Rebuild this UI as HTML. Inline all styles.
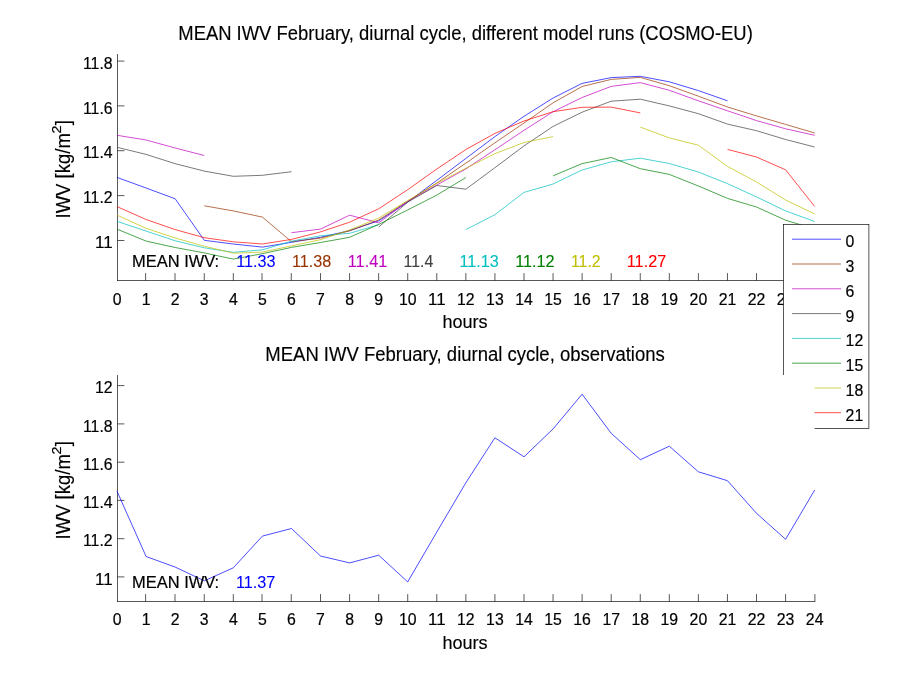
<!DOCTYPE html>
<html lang="en"><head><meta charset="utf-8"><title>MEAN IWV February, diurnal cycle</title>
<style>html,body{margin:0;padding:0;background:#fff}body{width:900px;height:675px;overflow:hidden}svg{display:block}text{font-family:"Liberation Sans", Arial, Helvetica, sans-serif;stroke-width:0.2px}</style>
</head><body>
<svg width="900" height="675" viewBox="0 0 900 675">
<rect x="0" y="0" width="900" height="675" fill="#fff"/>
<g stroke="#000" stroke-width="0.66" fill="none">
<line x1="117.5" y1="54" x2="117.5" y2="280.9"/>
<line x1="117.2" y1="280.5" x2="815.2" y2="280.5"/>
<line x1="145.60" y1="273.1" x2="145.60" y2="280.5"/>
<line x1="175.00" y1="273.1" x2="175.00" y2="280.5"/>
<line x1="204.25" y1="273.1" x2="204.25" y2="280.5"/>
<line x1="233.32" y1="273.1" x2="233.32" y2="280.5"/>
<line x1="262.00" y1="273.1" x2="262.00" y2="280.5"/>
<line x1="291.25" y1="273.1" x2="291.25" y2="280.5"/>
<line x1="320.52" y1="273.1" x2="320.52" y2="280.5"/>
<line x1="349.59" y1="273.1" x2="349.59" y2="280.5"/>
<line x1="378.65" y1="273.1" x2="378.65" y2="280.5"/>
<line x1="407.72" y1="273.1" x2="407.72" y2="280.5"/>
<line x1="436.79" y1="273.1" x2="436.79" y2="280.5"/>
<line x1="465.85" y1="273.1" x2="465.85" y2="280.5"/>
<line x1="494.92" y1="273.1" x2="494.92" y2="280.5"/>
<line x1="523.99" y1="273.1" x2="523.99" y2="280.5"/>
<line x1="553.05" y1="273.1" x2="553.05" y2="280.5"/>
<line x1="582.12" y1="273.1" x2="582.12" y2="280.5"/>
<line x1="611.19" y1="273.1" x2="611.19" y2="280.5"/>
<line x1="640.26" y1="273.1" x2="640.26" y2="280.5"/>
<line x1="669.32" y1="273.1" x2="669.32" y2="280.5"/>
<line x1="698.39" y1="273.1" x2="698.39" y2="280.5"/>
<line x1="727.46" y1="273.1" x2="727.46" y2="280.5"/>
<line x1="756.52" y1="273.1" x2="756.52" y2="280.5"/>
<line x1="785.59" y1="273.1" x2="785.59" y2="280.5"/>
<line x1="814.90" y1="273.1" x2="814.90" y2="280.5"/>
<line x1="117.5" y1="61.1" x2="124.4" y2="61.1"/>
<line x1="117.5" y1="105.9" x2="124.4" y2="105.9"/>
<line x1="117.5" y1="150.7" x2="124.4" y2="150.7"/>
<line x1="117.5" y1="195.6" x2="124.4" y2="195.6"/>
<line x1="117.5" y1="240.5" x2="124.4" y2="240.5"/>
</g>
<text x="83.00" y="68.80" font-size="16.67" textLength="29.60" lengthAdjust="spacingAndGlyphs" fill="#000" stroke="#000">11.8</text>
<text x="83.00" y="113.60" font-size="16.67" textLength="29.60" lengthAdjust="spacingAndGlyphs" fill="#000" stroke="#000">11.6</text>
<text x="83.00" y="158.40" font-size="16.67" textLength="29.60" lengthAdjust="spacingAndGlyphs" fill="#000" stroke="#000">11.4</text>
<text x="83.00" y="203.30" font-size="16.67" textLength="29.60" lengthAdjust="spacingAndGlyphs" fill="#000" stroke="#000">11.2</text>
<text x="95.00" y="248.20" font-size="16.67" textLength="17.60" lengthAdjust="spacingAndGlyphs" fill="#000" stroke="#000">11</text>
<text x="112.65" y="304.70" font-size="16.67" textLength="8.80" lengthAdjust="spacingAndGlyphs" fill="#000" stroke="#000">0</text>
<text x="141.72" y="304.70" font-size="16.67" textLength="8.80" lengthAdjust="spacingAndGlyphs" fill="#000" stroke="#000">1</text>
<text x="170.78" y="304.70" font-size="16.67" textLength="8.80" lengthAdjust="spacingAndGlyphs" fill="#000" stroke="#000">2</text>
<text x="199.85" y="304.70" font-size="16.67" textLength="8.80" lengthAdjust="spacingAndGlyphs" fill="#000" stroke="#000">3</text>
<text x="228.92" y="304.70" font-size="16.67" textLength="8.80" lengthAdjust="spacingAndGlyphs" fill="#000" stroke="#000">4</text>
<text x="257.99" y="304.70" font-size="16.67" textLength="8.80" lengthAdjust="spacingAndGlyphs" fill="#000" stroke="#000">5</text>
<text x="287.05" y="304.70" font-size="16.67" textLength="8.80" lengthAdjust="spacingAndGlyphs" fill="#000" stroke="#000">6</text>
<text x="316.12" y="304.70" font-size="16.67" textLength="8.80" lengthAdjust="spacingAndGlyphs" fill="#000" stroke="#000">7</text>
<text x="345.19" y="304.70" font-size="16.67" textLength="8.80" lengthAdjust="spacingAndGlyphs" fill="#000" stroke="#000">8</text>
<text x="374.25" y="304.70" font-size="16.67" textLength="8.80" lengthAdjust="spacingAndGlyphs" fill="#000" stroke="#000">9</text>
<text x="398.92" y="304.70" font-size="16.67" textLength="17.60" lengthAdjust="spacingAndGlyphs" fill="#000" stroke="#000">10</text>
<text x="427.99" y="304.70" font-size="16.67" textLength="17.60" lengthAdjust="spacingAndGlyphs" fill="#000" stroke="#000">11</text>
<text x="457.05" y="304.70" font-size="16.67" textLength="17.60" lengthAdjust="spacingAndGlyphs" fill="#000" stroke="#000">12</text>
<text x="486.12" y="304.70" font-size="16.67" textLength="17.60" lengthAdjust="spacingAndGlyphs" fill="#000" stroke="#000">13</text>
<text x="515.19" y="304.70" font-size="16.67" textLength="17.60" lengthAdjust="spacingAndGlyphs" fill="#000" stroke="#000">14</text>
<text x="544.25" y="304.70" font-size="16.67" textLength="17.60" lengthAdjust="spacingAndGlyphs" fill="#000" stroke="#000">15</text>
<text x="573.32" y="304.70" font-size="16.67" textLength="17.60" lengthAdjust="spacingAndGlyphs" fill="#000" stroke="#000">16</text>
<text x="602.39" y="304.70" font-size="16.67" textLength="17.60" lengthAdjust="spacingAndGlyphs" fill="#000" stroke="#000">17</text>
<text x="631.46" y="304.70" font-size="16.67" textLength="17.60" lengthAdjust="spacingAndGlyphs" fill="#000" stroke="#000">18</text>
<text x="660.52" y="304.70" font-size="16.67" textLength="17.60" lengthAdjust="spacingAndGlyphs" fill="#000" stroke="#000">19</text>
<text x="689.59" y="304.70" font-size="16.67" textLength="17.60" lengthAdjust="spacingAndGlyphs" fill="#000" stroke="#000">20</text>
<text x="718.66" y="304.70" font-size="16.67" textLength="17.60" lengthAdjust="spacingAndGlyphs" fill="#000" stroke="#000">21</text>
<text x="747.72" y="304.70" font-size="16.67" textLength="17.60" lengthAdjust="spacingAndGlyphs" fill="#000" stroke="#000">22</text>
<text x="776.79" y="304.70" font-size="16.67" textLength="17.60" lengthAdjust="spacingAndGlyphs" fill="#000" stroke="#000">23</text>
<text x="805.86" y="304.70" font-size="16.67" textLength="17.60" lengthAdjust="spacingAndGlyphs" fill="#000" stroke="#000">24</text>
<g fill="none" stroke-width="0.7" stroke-opacity="1.0" stroke-linejoin="round">
<polyline stroke="#0000ff" points="117.0,177.4 146.1,188.0 175.2,198.8 204.3,240.3 233.3,244.0 262.4,247.1 291.5,242.3 320.5,237.3 349.6,230.6 378.7,220.8 407.7,202.1 436.8,180.3 465.9,158.4 494.9,136.6 524.0,116.3 553.1,98.0 582.1,83.4 611.2,77.6 640.3,76.3 669.3,81.8 698.4,90.6 727.5,100.8"/>
<polyline stroke="#993300" points="204.3,205.8 233.3,210.9 262.4,217.1 291.5,241.7 320.5,238.1 349.6,230.9 378.7,220.0 407.7,201.3 436.8,183.0 465.9,163.1 494.9,142.8 524.0,123.0 553.1,102.8 582.1,86.5 611.2,79.4 640.3,77.4 669.3,85.7 698.4,96.2 727.5,107.0 756.5,115.9 785.6,124.4 814.7,133.0"/>
<polyline stroke="#bf00bf" points="117.0,135.3 146.1,140.0 175.2,148.0 204.3,155.5"/>
<polyline stroke="#bf00bf" points="291.5,232.7 320.5,229.1 349.6,215.2 378.7,222.8 407.7,201.3 436.8,185.0 465.9,168.9 494.9,149.8 524.0,130.3 553.1,111.7 582.1,97.5 611.2,86.4 640.3,82.6 669.3,90.3 698.4,100.8 727.5,110.8 756.5,120.6 785.6,128.8 814.7,135.3"/>
<polyline stroke="#404040" points="117.0,147.3 146.1,154.4 175.2,163.7 204.3,171.1 233.3,176.3 262.4,175.3 291.5,171.7"/>
<polyline stroke="#404040" points="378.7,227.0 407.7,202.1 436.8,185.5 465.9,189.2 494.9,167.7 524.0,145.9 553.1,126.4 582.1,112.2 611.2,101.2 640.3,99.2 669.3,105.9 698.4,113.7 727.5,124.1 756.5,130.7 785.6,139.5 814.7,147.0"/>
<polyline stroke="#00bfbf" points="117.0,221.3 146.1,231.1 175.2,240.8 204.3,247.8 233.3,252.3 262.4,249.8 291.5,241.2 320.5,235.8 349.6,233.3 378.7,224.7"/>
<polyline stroke="#00bfbf" points="465.9,229.6 494.9,214.7 524.0,192.4 553.1,184.0 582.1,170.0 611.2,161.8 640.3,158.2 669.3,163.5 698.4,172.0 727.5,183.7 756.5,196.9 785.6,210.9 814.7,221.5"/>
<polyline stroke="#008000" points="117.0,229.1 146.1,241.1 175.2,247.5 204.3,252.9 233.3,259.1 262.4,253.7 291.5,247.4 320.5,242.5 349.6,237.3 378.7,224.4 407.7,209.9 436.8,195.1 465.9,177.5"/>
<polyline stroke="#008000" points="553.1,175.8 582.1,163.6 611.2,157.5 640.3,168.7 669.3,174.4 698.4,186.0 727.5,198.4 756.5,207.0 785.6,220.2 814.7,229.0"/>
<polyline stroke="#bfbf00" points="117.0,215.1 146.1,228.3 175.2,238.0 204.3,246.2 233.3,253.2 262.4,252.1 291.5,245.9 320.5,239.7 349.6,229.9 378.7,218.1 407.7,200.6 436.8,183.4 465.9,168.2 494.9,153.7 524.0,142.5 553.1,136.6"/>
<polyline stroke="#bfbf00" points="640.3,127.1 669.3,137.9 698.4,145.2 727.5,166.4 756.5,182.0 785.6,200.0 814.7,214.0"/>
<polyline stroke="#ff0000" points="117.0,206.6 146.1,219.5 175.2,229.6 204.3,237.7 233.3,241.8 262.4,244.0 291.5,239.4 320.5,231.9 349.6,222.2 378.7,208.8 407.7,189.7 436.8,169.0 465.9,149.5 494.9,133.4 524.0,121.0 553.1,111.7 582.1,107.3 611.2,107.1 640.3,112.9"/>
<polyline stroke="#ff0000" points="727.5,149.4 756.5,157.0 785.6,169.8 814.7,206.5"/>
</g>
<text x="132.00" y="266.70" font-size="16.67" textLength="87.20" lengthAdjust="spacingAndGlyphs" fill="#000" stroke="#000">MEAN IWV:</text>
<text x="236.20" y="266.70" font-size="16.67" textLength="39.40" lengthAdjust="spacingAndGlyphs" fill="#0000ff" stroke="#0000ff" style="stroke-width:0.1px">11.33</text>
<text x="292.00" y="266.70" font-size="16.67" textLength="39.40" lengthAdjust="spacingAndGlyphs" fill="#993300" stroke="#993300" style="stroke-width:0.1px">11.38</text>
<text x="347.80" y="266.70" font-size="16.67" textLength="39.40" lengthAdjust="spacingAndGlyphs" fill="#bf00bf" stroke="#bf00bf" style="stroke-width:0.1px">11.41</text>
<text x="403.60" y="266.70" font-size="16.67" textLength="29.60" lengthAdjust="spacingAndGlyphs" fill="#404040" stroke="#404040" style="stroke-width:0.1px">11.4</text>
<text x="459.40" y="266.70" font-size="16.67" textLength="39.40" lengthAdjust="spacingAndGlyphs" fill="#00bfbf" stroke="#00bfbf" style="stroke-width:0.1px">11.13</text>
<text x="515.20" y="266.70" font-size="16.67" textLength="39.40" lengthAdjust="spacingAndGlyphs" fill="#008000" stroke="#008000" style="stroke-width:0.1px">11.12</text>
<text x="571.00" y="266.70" font-size="16.67" textLength="29.60" lengthAdjust="spacingAndGlyphs" fill="#bfbf00" stroke="#bfbf00" style="stroke-width:0.1px">11.2</text>
<text x="626.80" y="266.70" font-size="16.67" textLength="39.40" lengthAdjust="spacingAndGlyphs" fill="#ff0000" stroke="#ff0000" style="stroke-width:0.1px">11.27</text>
<text x="178.30" y="40.30" font-size="19.4" textLength="574.50" lengthAdjust="spacingAndGlyphs" fill="#000" stroke="#000" style="stroke-width:0.15px">MEAN IWV February, diurnal cycle, different model runs (COSMO-EU)</text>
<text x="442.40" y="328.40" font-size="19.0" textLength="45.20" lengthAdjust="spacingAndGlyphs" fill="#000" stroke="#000" style="stroke-width:0.15px">hours</text>
<g transform="translate(70.3,218.5) rotate(-90)">
<text x="0.00" y="0.00" font-size="19.4" textLength="85.30" lengthAdjust="spacingAndGlyphs" fill="#000" stroke="#000" style="stroke-width:0.15px">IWV [kg/m</text>
<text x="85.00" y="-9.30" font-size="13.6" textLength="8.00" lengthAdjust="spacingAndGlyphs" fill="#000" stroke="#000">2</text>
<text x="93.30" y="0.00" font-size="19.4" textLength="5.20" lengthAdjust="spacingAndGlyphs" fill="#000" stroke="#000" style="stroke-width:0.15px">]</text>
</g>
<g>
<rect x="783.5" y="224.5" width="85.4" height="203.9" fill="#fff" stroke="#000" stroke-width="0.66"/>
<line x1="792" y1="239.2" x2="841" y2="239.2" stroke="#0000ff" stroke-width="0.7" stroke-opacity="1.0"/>
<text x="845.60" y="247.10" font-size="16.67" textLength="8.80" lengthAdjust="spacingAndGlyphs" fill="#000" stroke="#000">0</text>
<line x1="792" y1="264.0" x2="841" y2="264.0" stroke="#993300" stroke-width="0.7" stroke-opacity="1.0"/>
<text x="845.60" y="271.90" font-size="16.67" textLength="8.80" lengthAdjust="spacingAndGlyphs" fill="#000" stroke="#000">3</text>
<line x1="792" y1="288.8" x2="841" y2="288.8" stroke="#bf00bf" stroke-width="0.7" stroke-opacity="1.0"/>
<text x="845.60" y="296.70" font-size="16.67" textLength="8.80" lengthAdjust="spacingAndGlyphs" fill="#000" stroke="#000">6</text>
<line x1="792" y1="313.6" x2="841" y2="313.6" stroke="#404040" stroke-width="0.7" stroke-opacity="1.0"/>
<text x="845.60" y="321.50" font-size="16.67" textLength="8.80" lengthAdjust="spacingAndGlyphs" fill="#000" stroke="#000">9</text>
<line x1="792" y1="338.4" x2="841" y2="338.4" stroke="#00bfbf" stroke-width="0.7" stroke-opacity="1.0"/>
<text x="845.60" y="346.30" font-size="16.67" textLength="17.60" lengthAdjust="spacingAndGlyphs" fill="#000" stroke="#000">12</text>
<line x1="792" y1="363.2" x2="841" y2="363.2" stroke="#008000" stroke-width="0.7" stroke-opacity="1.0"/>
<text x="845.60" y="371.10" font-size="16.67" textLength="17.60" lengthAdjust="spacingAndGlyphs" fill="#000" stroke="#000">15</text>
<line x1="792" y1="388.0" x2="841" y2="388.0" stroke="#bfbf00" stroke-width="0.7" stroke-opacity="1.0"/>
<text x="845.60" y="395.90" font-size="16.67" textLength="17.60" lengthAdjust="spacingAndGlyphs" fill="#000" stroke="#000">18</text>
<line x1="792" y1="412.7" x2="841" y2="412.7" stroke="#ff0000" stroke-width="0.7" stroke-opacity="1.0"/>
<text x="845.60" y="420.60" font-size="16.67" textLength="17.60" lengthAdjust="spacingAndGlyphs" fill="#000" stroke="#000">21</text>
</g>
<rect x="118" y="375" width="696.5" height="227" fill="#fff"/>
<g stroke="#000" stroke-width="0.66" fill="none">
<line x1="117.5" y1="375" x2="117.5" y2="601.9"/>
<line x1="117.2" y1="601.5" x2="815.2" y2="601.5"/>
<line x1="145.60" y1="594.1" x2="145.60" y2="601.5"/>
<line x1="175.00" y1="594.1" x2="175.00" y2="601.5"/>
<line x1="204.25" y1="594.1" x2="204.25" y2="601.5"/>
<line x1="233.32" y1="594.1" x2="233.32" y2="601.5"/>
<line x1="262.00" y1="594.1" x2="262.00" y2="601.5"/>
<line x1="291.25" y1="594.1" x2="291.25" y2="601.5"/>
<line x1="320.52" y1="594.1" x2="320.52" y2="601.5"/>
<line x1="349.59" y1="594.1" x2="349.59" y2="601.5"/>
<line x1="378.65" y1="594.1" x2="378.65" y2="601.5"/>
<line x1="407.72" y1="594.1" x2="407.72" y2="601.5"/>
<line x1="436.79" y1="594.1" x2="436.79" y2="601.5"/>
<line x1="465.85" y1="594.1" x2="465.85" y2="601.5"/>
<line x1="494.92" y1="594.1" x2="494.92" y2="601.5"/>
<line x1="523.99" y1="594.1" x2="523.99" y2="601.5"/>
<line x1="553.05" y1="594.1" x2="553.05" y2="601.5"/>
<line x1="582.12" y1="594.1" x2="582.12" y2="601.5"/>
<line x1="611.19" y1="594.1" x2="611.19" y2="601.5"/>
<line x1="640.26" y1="594.1" x2="640.26" y2="601.5"/>
<line x1="669.32" y1="594.1" x2="669.32" y2="601.5"/>
<line x1="698.39" y1="594.1" x2="698.39" y2="601.5"/>
<line x1="727.46" y1="594.1" x2="727.46" y2="601.5"/>
<line x1="756.52" y1="594.1" x2="756.52" y2="601.5"/>
<line x1="785.59" y1="594.1" x2="785.59" y2="601.5"/>
<line x1="814.90" y1="594.1" x2="814.90" y2="601.5"/>
<line x1="117.5" y1="385.6" x2="124.4" y2="385.6"/>
<line x1="117.5" y1="423.9" x2="124.4" y2="423.9"/>
<line x1="117.5" y1="462.2" x2="124.4" y2="462.2"/>
<line x1="117.5" y1="500.4" x2="124.4" y2="500.4"/>
<line x1="117.5" y1="538.7" x2="124.4" y2="538.7"/>
<line x1="117.5" y1="576.9" x2="124.4" y2="576.9"/>
</g>
<text x="95.00" y="393.30" font-size="16.67" textLength="17.60" lengthAdjust="spacingAndGlyphs" fill="#000" stroke="#000">12</text>
<text x="83.00" y="431.60" font-size="16.67" textLength="29.60" lengthAdjust="spacingAndGlyphs" fill="#000" stroke="#000">11.8</text>
<text x="83.00" y="469.90" font-size="16.67" textLength="29.60" lengthAdjust="spacingAndGlyphs" fill="#000" stroke="#000">11.6</text>
<text x="83.00" y="508.10" font-size="16.67" textLength="29.60" lengthAdjust="spacingAndGlyphs" fill="#000" stroke="#000">11.4</text>
<text x="83.00" y="546.40" font-size="16.67" textLength="29.60" lengthAdjust="spacingAndGlyphs" fill="#000" stroke="#000">11.2</text>
<text x="95.00" y="584.60" font-size="16.67" textLength="17.60" lengthAdjust="spacingAndGlyphs" fill="#000" stroke="#000">11</text>
<text x="112.65" y="625.20" font-size="16.67" textLength="8.80" lengthAdjust="spacingAndGlyphs" fill="#000" stroke="#000">0</text>
<text x="141.72" y="625.20" font-size="16.67" textLength="8.80" lengthAdjust="spacingAndGlyphs" fill="#000" stroke="#000">1</text>
<text x="170.78" y="625.20" font-size="16.67" textLength="8.80" lengthAdjust="spacingAndGlyphs" fill="#000" stroke="#000">2</text>
<text x="199.85" y="625.20" font-size="16.67" textLength="8.80" lengthAdjust="spacingAndGlyphs" fill="#000" stroke="#000">3</text>
<text x="228.92" y="625.20" font-size="16.67" textLength="8.80" lengthAdjust="spacingAndGlyphs" fill="#000" stroke="#000">4</text>
<text x="257.99" y="625.20" font-size="16.67" textLength="8.80" lengthAdjust="spacingAndGlyphs" fill="#000" stroke="#000">5</text>
<text x="287.05" y="625.20" font-size="16.67" textLength="8.80" lengthAdjust="spacingAndGlyphs" fill="#000" stroke="#000">6</text>
<text x="316.12" y="625.20" font-size="16.67" textLength="8.80" lengthAdjust="spacingAndGlyphs" fill="#000" stroke="#000">7</text>
<text x="345.19" y="625.20" font-size="16.67" textLength="8.80" lengthAdjust="spacingAndGlyphs" fill="#000" stroke="#000">8</text>
<text x="374.25" y="625.20" font-size="16.67" textLength="8.80" lengthAdjust="spacingAndGlyphs" fill="#000" stroke="#000">9</text>
<text x="398.92" y="625.20" font-size="16.67" textLength="17.60" lengthAdjust="spacingAndGlyphs" fill="#000" stroke="#000">10</text>
<text x="427.99" y="625.20" font-size="16.67" textLength="17.60" lengthAdjust="spacingAndGlyphs" fill="#000" stroke="#000">11</text>
<text x="457.05" y="625.20" font-size="16.67" textLength="17.60" lengthAdjust="spacingAndGlyphs" fill="#000" stroke="#000">12</text>
<text x="486.12" y="625.20" font-size="16.67" textLength="17.60" lengthAdjust="spacingAndGlyphs" fill="#000" stroke="#000">13</text>
<text x="515.19" y="625.20" font-size="16.67" textLength="17.60" lengthAdjust="spacingAndGlyphs" fill="#000" stroke="#000">14</text>
<text x="544.25" y="625.20" font-size="16.67" textLength="17.60" lengthAdjust="spacingAndGlyphs" fill="#000" stroke="#000">15</text>
<text x="573.32" y="625.20" font-size="16.67" textLength="17.60" lengthAdjust="spacingAndGlyphs" fill="#000" stroke="#000">16</text>
<text x="602.39" y="625.20" font-size="16.67" textLength="17.60" lengthAdjust="spacingAndGlyphs" fill="#000" stroke="#000">17</text>
<text x="631.46" y="625.20" font-size="16.67" textLength="17.60" lengthAdjust="spacingAndGlyphs" fill="#000" stroke="#000">18</text>
<text x="660.52" y="625.20" font-size="16.67" textLength="17.60" lengthAdjust="spacingAndGlyphs" fill="#000" stroke="#000">19</text>
<text x="689.59" y="625.20" font-size="16.67" textLength="17.60" lengthAdjust="spacingAndGlyphs" fill="#000" stroke="#000">20</text>
<text x="718.66" y="625.20" font-size="16.67" textLength="17.60" lengthAdjust="spacingAndGlyphs" fill="#000" stroke="#000">21</text>
<text x="747.72" y="625.20" font-size="16.67" textLength="17.60" lengthAdjust="spacingAndGlyphs" fill="#000" stroke="#000">22</text>
<text x="776.79" y="625.20" font-size="16.67" textLength="17.60" lengthAdjust="spacingAndGlyphs" fill="#000" stroke="#000">23</text>
<text x="805.86" y="625.20" font-size="16.67" textLength="17.60" lengthAdjust="spacingAndGlyphs" fill="#000" stroke="#000">24</text>
<polyline fill="none" stroke="#0000ff" stroke-width="0.7" stroke-opacity="1.0" stroke-linejoin="round" points="117.0,491.2 146.1,556.5 175.2,567.1 204.3,580.8 233.3,567.8 262.4,536.1 291.5,528.5 320.5,556.0 349.6,562.9 378.7,555.2 407.7,581.9 436.8,532.0 465.9,482.7 494.9,437.8 524.0,456.8 553.1,428.9 582.1,394.2 611.2,433.3 640.3,459.7 669.3,446.2 698.4,471.8 727.5,480.7 756.5,513.3 785.6,539.3 814.7,490.0"/>
<text x="132.00" y="587.80" font-size="16.67" textLength="87.20" lengthAdjust="spacingAndGlyphs" fill="#000" stroke="#000">MEAN IWV:</text>
<text x="236.00" y="587.90" font-size="16.67" textLength="39.40" lengthAdjust="spacingAndGlyphs" fill="#0000ff" stroke="#0000ff" style="stroke-width:0.1px">11.37</text>
<text x="265.30" y="361.20" font-size="19.4" textLength="399.50" lengthAdjust="spacingAndGlyphs" fill="#000" stroke="#000" style="stroke-width:0.15px">MEAN IWV February, diurnal cycle, observations</text>
<text x="442.40" y="649.40" font-size="19.0" textLength="45.20" lengthAdjust="spacingAndGlyphs" fill="#000" stroke="#000" style="stroke-width:0.15px">hours</text>
<g transform="translate(70.3,539.5) rotate(-90)">
<text x="0.00" y="0.00" font-size="19.4" textLength="85.30" lengthAdjust="spacingAndGlyphs" fill="#000" stroke="#000" style="stroke-width:0.15px">IWV [kg/m</text>
<text x="85.00" y="-9.30" font-size="13.6" textLength="8.00" lengthAdjust="spacingAndGlyphs" fill="#000" stroke="#000">2</text>
<text x="93.30" y="0.00" font-size="19.4" textLength="5.20" lengthAdjust="spacingAndGlyphs" fill="#000" stroke="#000" style="stroke-width:0.15px">]</text>
</g>
</svg></body></html>
